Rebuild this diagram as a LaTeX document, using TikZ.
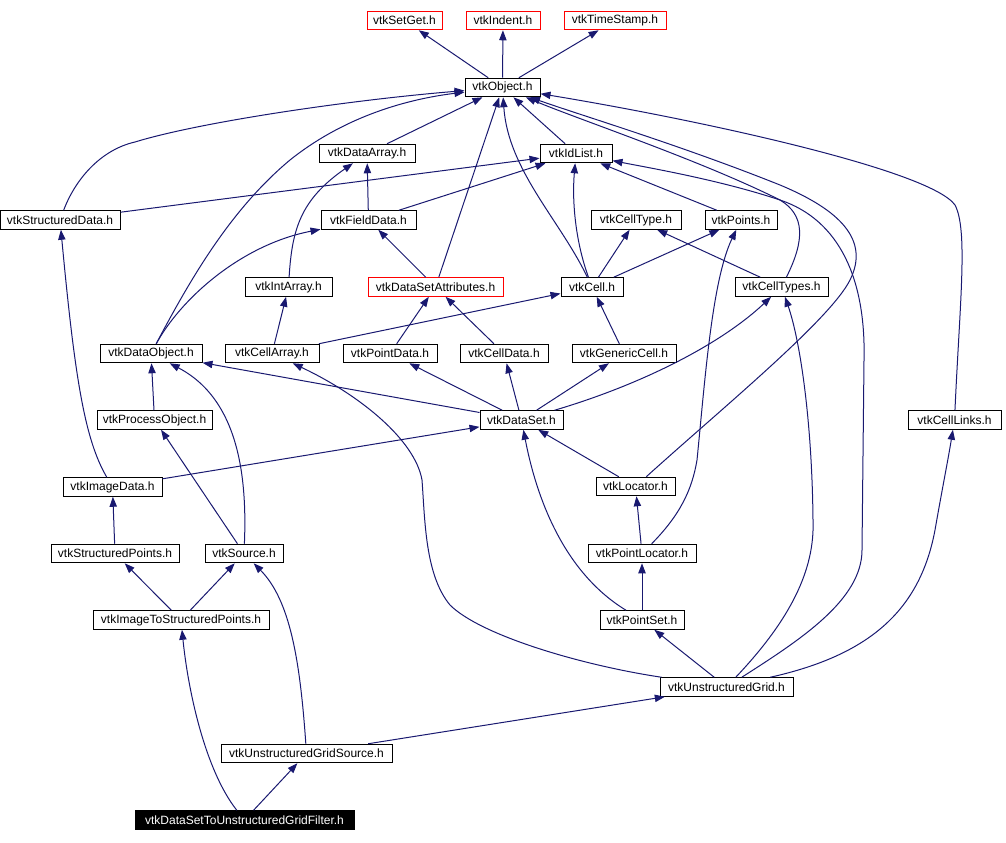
\documentclass[tikz,border=0pt]{standalone}
\usepackage{fontspec}
\setmainfont{Liberation Sans}
\usetikzlibrary{arrows.meta}
\definecolor{navyc}{RGB}{25,25,112}
\begin{document}
\begin{tikzpicture}[x=0.75pt,y=-0.75pt,
  box/.style={draw=black, line width=0.75pt, inner sep=0pt, minimum height=13.9pt, font=\fontsize{9}{10}\selectfont, text=black},
  bw/.style={minimum width=#1*0.75pt},
  redbox/.style={box, draw=red},
  edge/.style={draw=navyc, line width=0.75pt, -{Triangle[length=7.5pt,width=5.5pt]}}]
\useasboundingbox (0,0) rectangle (1006,842);
\node[redbox,bw=75] (SetGet) at (404.5,20.5) {vtkSetGet.h};
\node[redbox,bw=74] (Indent) at (503,20.5) {vtkIndent.h};
\node[redbox,bw=102] (TimeStamp) at (615,20.5) {vtkTimeStamp.h};
\node[box,bw=75] (Object) at (502.5,87.5) {vtkObject.h};
\node[box,bw=96] (DataArray) at (367,153.5) {vtkDataArray.h};
\node[box,bw=72] (IdList) at (576,153.5) {vtkIdList.h};
\node[box,bw=120] (StructuredData) at (60,220) {vtkStructuredData.h};
\node[box,bw=95] (FieldData) at (368.5,220) {vtkFieldData.h};
\node[box,bw=90] (CellType) at (636,220) {vtkCellType.h};
\node[box,bw=72] (Points) at (741,220) {vtkPoints.h};
\node[box,bw=87] (IntArray) at (288.5,287) {vtkIntArray.h};
\node[redbox,bw=135] (DSA) at (435.5,287) {vtkDataSetAttributes.h};
\node[box,bw=62] (Cell) at (592,287) {vtkCell.h};
\node[box,bw=93] (CellTypes) at (781.5,287) {vtkCellTypes.h};
\node[box,bw=102] (DataObject) at (151,353.5) {vtkDataObject.h};
\node[box,bw=94] (CellArray) at (272,353.5) {vtkCellArray.h};
\node[box,bw=94] (PointData) at (390,353.5) {vtkPointData.h};
\node[box,bw=88] (CellData) at (504,353.5) {vtkCellData.h};
\node[box,bw=104] (GenericCell) at (624,353.5) {vtkGenericCell.h};
\node[box,bw=115] (ProcessObject) at (154.5,420) {vtkProcessObject.h};
\node[box,bw=83] (DataSet) at (521.5,420) {vtkDataSet.h};
\node[box,bw=93] (CellLinks) at (954.5,420) {vtkCellLinks.h};
\node[box,bw=99] (ImageData) at (112.5,487) {vtkImageData.h};
\node[box,bw=79] (Locator) at (635.5,486.5) {vtkLocator.h};
\node[box,bw=128] (StructuredPoints) at (115,553.5) {vtkStructuredPoints.h};
\node[box,bw=78] (Source) at (244,553.5) {vtkSource.h};
\node[box,bw=108] (PointLocator) at (642,553.5) {vtkPointLocator.h};
\node[box,bw=176] (ImageToSP) at (181,620) {vtkImageToStructuredPoints.h};
\node[box,bw=84] (PointSet) at (642,620) {vtkPointSet.h};
\node[box,bw=133] (UGrid) at (726.5,687) {vtkUnstructuredGrid.h};
\node[box,bw=171] (UGSource) at (306.5,753.5) {vtkUnstructuredGridSource.h};
\node[box,bw=219,fill=black,text=white] (Filter) at (244.5,820) {vtkDataSetToUnstructuredGridFilter.h};
% vtkObject
\draw[edge] (Object) -- (SetGet);
\draw[edge] (Object) -- (Indent);
\draw[edge] (Object) -- (TimeStamp);
\draw[edge] (StructuredData) .. controls (75,180) and (100,150) .. (135,142) .. controls (200,122) and (350,100) .. (Object);
\draw[edge] (DataObject) .. controls (190,280) and (230,210) .. (290,160) .. controls (340,120) and (400,100) .. (Object);
\draw[edge] (DataArray) -- (Object);
\draw[edge] (DSA) -- (Object);
\draw[edge] (Cell) .. controls (560,220) and (508,170) .. (Object);
\draw[edge] (IdList) -- (Object);
\draw[edge] (CellTypes) .. controls (805,240) and (805,215) .. (780,200) .. controls (700,160) and (580,120) .. (Object);
\draw[edge] (Locator) .. controls (720,410) and (830,320) .. (850,280) .. controls (870,240) and (840,210) .. (780,185) .. controls (680,145) and (580,115) .. (Object);
\draw[edge] (CellLinks) .. controls (960,300) and (968,230) .. (955,205) .. controls (930,170) and (700,120) .. (Object);
% vtkIdList
\draw[edge] (StructuredData) -- (IdList);
\draw[edge] (FieldData) -- (IdList);
\draw[edge] (Cell) .. controls (575,240) and (572,200) .. (IdList);
\draw[edge] (Points) -- (IdList);
\draw[edge] (UGrid) .. controls (800,640) and (862,600) .. (862,550) -- (864,360) .. controls (866,280) and (840,220) .. (780,200) .. controls (720,180) and (650,168) .. (IdList);
% vtkDataArray
\draw[edge] (FieldData) -- (DataArray);
\draw[edge] (IntArray) .. controls (292,230) and (300,200) .. (DataArray);
% vtkFieldData
\draw[edge] (DataObject) .. controls (180,300) and (240,245) .. (FieldData);
\draw[edge] (DSA) -- (FieldData);
% vtkCellType / vtkPoints
\draw[edge] (Cell) -- (CellType);
\draw[edge] (CellTypes) -- (CellType);
\draw[edge] (Cell) -- (Points);
\draw[edge] (PointLocator) .. controls (680,515) and (692,490) .. (697,460) .. controls (705,380) and (712,280) .. (Points);
% vtkCell
\draw[edge] (GenericCell) -- (Cell);
\draw[edge] (CellArray) -- (Cell);
% vtkCellTypes
\draw[edge] (DataSet) .. controls (640,385) and (720,345) .. (CellTypes);
\draw[edge] (UGrid) .. controls (790,620) and (815,570) .. (813,520) .. controls (812,420) and (800,340) .. (CellTypes);
% vtkDataObject
\draw[edge] (ProcessObject) -- (DataObject);
\draw[edge] (Source) .. controls (247,480) and (240,400) .. (DataObject);
\draw[edge] (DataSet) -- (DataObject);
% vtkDataSetAttributes
\draw[edge] (PointData) -- (DSA);
\draw[edge] (CellData) -- (DSA);
% vtkIntArray
\draw[edge] (CellArray) -- (IntArray);
% vtkCellArray
\draw[edge] (UGrid) .. controls (580,665) and (480,635) .. (450,605) .. controls (425,575) and (425,520) .. (422,480) .. controls (415,440) and (360,395) .. (CellArray);
% vtkDataSet
\draw[edge] (ImageData) -- (DataSet);
\draw[edge] (DataSet) -- (PointData);
\draw[edge] (DataSet) -- (CellData);
\draw[edge] (DataSet) -- (GenericCell);
\draw[edge] (Locator) -- (DataSet);
\draw[edge] (PointSet) .. controls (560,570) and (535,490) .. (DataSet);
% lower part
\draw[edge] (Source) -- (ProcessObject);
\draw[edge] (ImageData) .. controls (85,440) and (75,380) .. (StructuredData);
\draw[edge] (StructuredPoints) -- (ImageData);
\draw[edge] (ImageToSP) -- (StructuredPoints);
\draw[edge] (ImageToSP) -- (Source);
\draw[edge] (UGSource) .. controls (300,660) and (290,600) .. (Source);
\draw[edge] (UGSource) -- (UGrid);
\draw[edge] (Filter) -- (UGSource);
\draw[edge] (Filter) .. controls (205,770) and (188,690) .. (ImageToSP);
\draw[edge] (PointLocator) -- (Locator);
\draw[edge] (PointSet) -- (PointLocator);
\draw[edge] (UGrid) -- (PointSet);
\draw[edge] (UGrid) .. controls (870,655) and (920,610) .. (935,530) .. controls (942,490) and (948,460) .. (CellLinks);
\end{tikzpicture}
\end{document}
